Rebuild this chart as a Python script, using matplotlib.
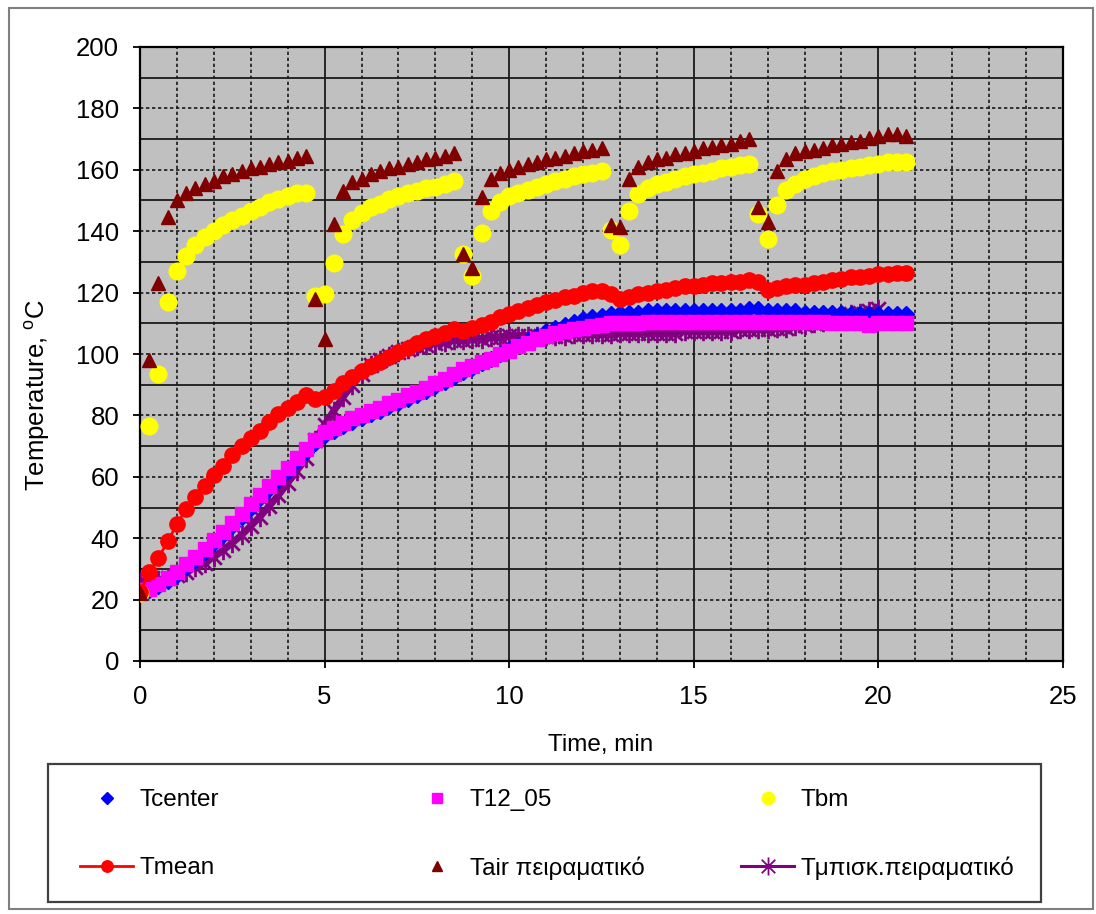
import numpy as np
import matplotlib
matplotlib.use("Agg")
import matplotlib.pyplot as plt
from matplotlib.path import Path
from matplotlib.patches import Rectangle
from matplotlib.lines import Line2D
from matplotlib.ticker import MultipleLocator

plt.rcParams["font.family"] = ["Liberation Sans", "DejaVu Sans"]
plt.rcParams["mathtext.fontset"] = "custom"
plt.rcParams["mathtext.rm"] = "Liberation Sans"

W, H = 1096, 914
FS = 17.5
FS_AX = 18.5

# sampling every 15 s
minutes = np.arange(84) * 0.25          # 0 ... 20.75 min
minutes_disk = minutes[:81]             # 0 ... 20 min

t_center = [22.5, 23, 24.5, 26, 28, 30.5, 33, 35.5, 38.5, 41, 44, 47, 50, 53, 56, 59,
            62, 65, 68, 71, 73.5, 75, 76.5, 78, 79, 80.5, 81.5, 83, 84, 85.5, 86.5, 88,
            89.5, 91, 92.5, 94, 95.5, 97, 98.5, 100, 101.5, 103, 104.5, 106, 107.5, 108.5,
            109.5, 110.5, 111.5, 112, 112.5, 113, 113.5, 113.5, 113.5, 114, 114, 114, 114,
            114, 114, 114, 114, 114, 114, 114, 114.5, 114.5, 114, 114, 114, 114, 113.5, 113.5,
            113.5, 113.5, 113.5, 113, 113, 113, 113, 113, 113, 113]

t12_05 = [23, 23.5, 25, 27, 29, 31.5, 34, 36.5, 39.5, 42, 45, 48, 51, 54, 57, 60,
          63, 66, 69, 72, 74.5, 76, 77.5, 79, 80, 81.5, 82.5, 84, 85, 86.5, 87.5, 89,
          90.5, 92, 93.5, 95, 96, 97.5, 98.5, 100, 101, 102.5, 103.5, 105, 106, 107,
          107.5, 108, 108.5, 109, 109.5, 110, 110, 110, 110, 110.5, 110.5, 110.5, 110.5,
          110.5, 110.5, 110.5, 110.5, 110.5, 110.5, 110.5, 110.5, 110.5, 110.5, 110.5,
          110.5, 110.5, 110.5, 110.5, 110.5, 110, 110, 110, 110, 109.5, 110, 110, 110, 110]

t_bm = [22, 76.5, 93.5, 117, 127, 132, 135.5, 138, 140, 142, 143.5, 145, 146.5, 148,
        149.5, 150.5, 151.5, 152.5, 152.5,
        119, 119.5,
        129.5, 139, 143.5, 146, 148, 149, 150.5, 151.5, 152.5, 153, 154, 154.5, 155.5, 156.5,
        132.5, 125.5,
        139.5, 146.5, 149.5, 151.5, 152.5, 153.5, 154.5, 155.5, 156.5, 157, 158, 158.5,
        159, 159.5,
        140.5, 135.5,
        146.5, 152, 154, 155.5, 156, 157, 158, 158.5, 159, 159.5, 160.5, 161, 161.5, 162,
        145.5, 137.5,
        148.5, 153.5, 155.5, 157, 158, 159, 159.5, 160, 160.5, 161, 161.5, 162, 162.5,
        162.5, 162.5]

t_mean = [22.5, 29, 33.5, 39, 44.5, 49.5, 53.5, 57, 60.5, 63.5, 67, 70, 72.5, 75, 78,
          80.5, 82.5, 84.5, 86.5, 85.5, 86, 88, 90.5, 92.5, 94.5, 96, 97.5, 99, 100.5,
          102, 103.5, 105, 106, 107, 108, 107.5, 108.5, 109.5, 110.5, 112, 113, 114, 115,
          116, 117, 117.5, 118.5, 119, 120, 120.5, 120.5, 119.5, 118, 118.5, 119.5, 120,
          120.5, 121, 121.5, 122, 122, 122.5, 123, 123, 123.5, 123.5, 124, 123.5, 121,
          121.5, 122, 122.5, 122.5, 123, 123.5, 124, 124.5, 125, 125, 125.5, 126, 126,
          126.5, 126.5]

t_air = [22, 98, 123, 144.5, 150, 152.5, 154, 155.5, 156.5, 158, 158.5, 159.5, 160.5,
         161, 162, 162.5, 163, 164, 164.5,
         118, 105,
         142.5, 153, 156, 157, 158.5, 159.5, 160.5, 161, 162, 162.5, 163.5, 164, 164.5, 165.5,
         132.5, 128,
         151, 157, 159, 160, 161, 162, 162.5, 163.5, 164, 164.5, 165.5, 166, 166.5, 167,
         142, 141.5,
         157, 161, 162.5, 163.5, 164, 165, 165.5, 166, 167, 167.5, 168, 168.5, 169.5, 170,
         148, 143,
         159.5, 163.5, 165.5, 166, 166.5, 167, 168, 168.5, 169, 169.5, 170.5, 171, 171.5,
         171.5, 171]

t_disk = [26, 26, 26.5, 27, 28, 29, 30.5, 32, 34, 36, 38.5, 41, 44, 47, 50.5, 54,
          58, 62, 66, 72, 77, 81.5, 86, 90, 93.5, 96.5, 98, 99.5, 100.5, 101.5, 102.5,
          103, 103.5, 104, 104.5, 104.5, 105, 105, 105.5, 105.5, 106, 106, 106, 106, 106,
          106, 106, 106.5, 106.5, 106.5, 106.5, 106.5, 107, 107, 107, 107, 107, 107, 107,
          107.5, 107.5, 107.5, 107.5, 107.5, 107.5, 108, 108, 108, 108, 108.5, 108.5, 109,
          109.5, 110, 110.5, 111.5, 112, 113, 113.5, 114, 114.5]

series_labels = ["Tcenter", "T12_05", "Tbm", "Tmean", "Tair πειραματικό",
                 "Tμπισκ.πειραματικό"]

PURPLE = "#800080"

# asterisk marker: vertical stroke plus two diagonals
asterisk = Path([(0, -1), (0, 1), (-0.75, -0.75), (0.75, 0.75), (-0.75, 0.75), (0.75, -0.75)],
                [Path.MOVETO, Path.LINETO] * 3)

fig = plt.figure(figsize=(W / 100, H / 100), dpi=100)
ax = fig.add_axes([140 / W, 1 - 661 / H, (1063 - 140) / W, (661 - 47) / H])
ax.set_facecolor("#C0C0C0")

ax.plot(minutes_disk, t_disk, color=PURPLE, lw=5, marker=asterisk, ms=14,
        mec=PURPLE, mfc="none", mew=2.0, zorder=3)
h_center, = ax.plot(minutes, t_center, ls="none", marker="D", ms=8, color="#0000FF",
                    zorder=4)
h_12, = ax.plot(minutes, t12_05, ls="none", marker="s", ms=10.5, color="#FF00FF", zorder=5)
h_bm, = ax.plot(minutes, t_bm, ls="none", marker="o", ms=12, color="#FFFF00", zorder=6)
h_mean, = ax.plot(minutes, t_mean, color="#FF0000", lw=2, marker="o", ms=11, zorder=7)
h_air, = ax.plot(minutes, t_air, ls="none", marker="^", ms=10.5, color="#800000", zorder=8)

# legend key for the disk series uses a thin line like the other keys
h_disk_key = Line2D([], [], color=PURPLE, lw=2.2, marker=asterisk, ms=13,
                    mec=PURPLE, mfc="none", mew=1.3)

ax.set_xlim(0, 25)
ax.set_ylim(0, 200)
ax.xaxis.set_major_locator(MultipleLocator(5))
ax.xaxis.set_minor_locator(MultipleLocator(1))
ax.yaxis.set_major_locator(MultipleLocator(20))
ax.yaxis.set_minor_locator(MultipleLocator(10))
ax.set_axisbelow(True)

dotted = (0, (2.0, 1.6))
ax.xaxis.grid(True, which="major", color="#1a1a1a", lw=1.3, ls="-")
ax.xaxis.grid(True, which="minor", color="#1a1a1a", lw=1.2, ls=dotted)
ax.yaxis.grid(True, which="major", color="#1a1a1a", lw=1.2, ls=dotted)
ax.yaxis.grid(True, which="minor", color="#1a1a1a", lw=1.3, ls="-")

ax.tick_params(which="major", direction="out", length=5, width=1.3, color="black",
               labelsize=FS_AX)
ax.tick_params(axis="y", which="major", pad=10)
ax.tick_params(axis="x", which="major", pad=12)
ax.tick_params(which="minor", length=0)
for s in ax.spines.values():
    s.set_linewidth(1.6)
    s.set_color("black")

fig.text(601 / W, 1 - 745 / H, "Time, min", ha="center", va="center", fontsize=FS)
fig.text(37 / W, 1 - 395 / H, "Temperature, $^{\\mathrm{o}}$C", ha="center", va="center",
         rotation=90, fontsize=FS_AX)

# legend box with three columns of two rows
fig.add_artist(Rectangle((48 / W, 1 - 902 / H), (1041 - 48) / W, (902 - 764) / H,
                         transform=fig.transFigure, facecolor="white",
                         edgecolor="#404040", lw=1.6, zorder=0))
handles = [h_center, h_12, h_bm, h_mean, h_air, h_disk_key]
scales = [0.75, 0.75, 0.75, 0.75, 0.75, 1.0]
col_x = [80, 410, 741]
row_y = [800, 868]
for i, (h, lbl) in enumerate(zip(handles, series_labels)):
    cx = col_x[i % 3]
    cy = row_y[i // 3]
    fig.legend(handles=[h], labels=[lbl], loc="center left",
               bbox_to_anchor=(cx / W, 1 - cy / H), frameon=False, borderpad=0,
               borderaxespad=0, handlelength=2.2, handletextpad=0.25, fontsize=FS,
               markerscale=scales[i], numpoints=1)

# outer chart border
fig.add_artist(Rectangle((9 / W, 1 - 909 / H), (1093 - 9) / W, (909 - 8) / H,
                         transform=fig.transFigure, facecolor="none",
                         edgecolor="#7f7f7f", lw=1.5, zorder=0))

fig.savefig("out.png", dpi=100)
